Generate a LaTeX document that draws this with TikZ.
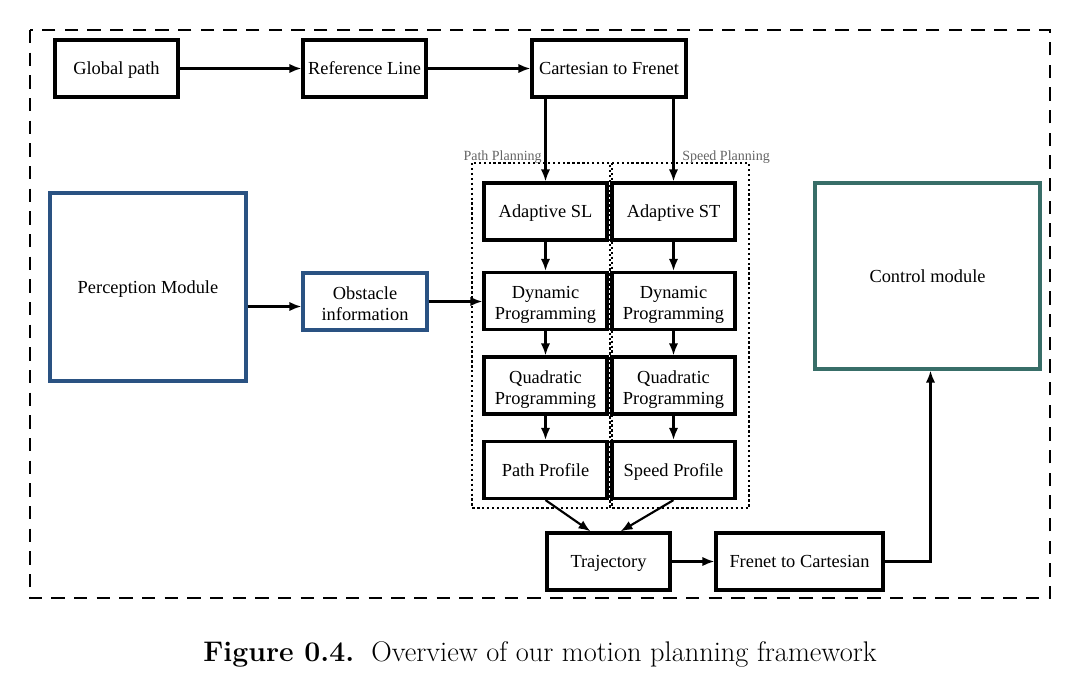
\documentclass[tikz,border=0pt]{standalone}
\usepackage{fontspec}
\newfontfamily\tnr{Liberation Serif}
\usetikzlibrary{arrows.meta,calc}
\definecolor{pblue}{RGB}{42,82,130}
\definecolor{cteal}{RGB}{56,110,104}
\definecolor{lblgray}{RGB}{100,100,100}
\tikzset{
  box/.style={draw, line width=2.4pt, font=\tnr\fontsize{13.8}{16}\selectfont, align=center, inner sep=0pt, minimum height=42.75pt, minimum width=92.25pt, text height=12.3pt, text depth=3pt},
  twoline/.style={text height=31pt, text depth=3pt},
  arr/.style={line width=1.6pt, -{Latex[length=9pt,width=7pt]}},
  grp/.style={draw, dotted, line width=1.7pt},
  grplbl/.style={font=\tnr\fontsize{10.5}{12}\selectfont, text=lblgray, inner sep=0pt}
}
\begin{document}
\begin{tikzpicture}[x=0.75pt,y=-0.75pt]
\useasboundingbox (0,0) rectangle (1077,692);
\draw[line width=1.8pt, dash pattern=on 10pt off 7pt] (30,30) rectangle (1050,598);

\node[box] (gp) at (116.5,68.5) {Global path};
\node[box] (rl) at (364.5,68.5) {Reference Line};
\node[box, minimum width=115.5pt] (cf) at (609,68.5) {Cartesian to Frenet};

\draw[grp] (472,163) rectangle (610,508);
\draw[grp] (612,163) rectangle (749,508);
\node[grplbl, anchor=base east] (pplbl) at (542,160) {Path Planning};
\node[grplbl, anchor=base west] (splbl) at (682,160) {Speed Planning};

\node[box] (sl) at (545.5,211.5) {Adaptive SL};
\node[box] (st) at (673.5,211.5) {Adaptive ST};
\node[box, twoline] (dp1) at (545.5,301) {Dynamic\\[-0.3pt]Programming};
\node[box, twoline] (dp2) at (673.5,301) {Dynamic\\[-0.3pt]Programming};
\node[box, twoline] (qp1) at (545.5,385.5) {Quadratic\\[-0.3pt]Programming};
\node[box, twoline] (qp2) at (673.5,385.5) {Quadratic\\[-0.3pt]Programming};
\node[box] (pp) at (545.5,470) {Path Profile};
\node[box] (sp) at (673.5,470) {Speed Profile};

\node[box, draw=pblue, minimum width=147pt, minimum height=141pt] (pm) at (148,287) {Perception Module};
\node[box, twoline, draw=pblue, minimum width=93pt] (ob) at (365,301.5) {Obstacle\\[-0.3pt]information};
\node[box, draw=cteal, minimum width=168.75pt, minimum height=139.5pt] (cm) at (927.5,276) {Control module};

\node[box] (tr) at (608.5,561.5) {Trajectory};
\node[box, minimum width=125.25pt] (fc) at (799.5,561.5) {Frenet to Cartesian};

\draw[arr] (gp) -- (rl);
\draw[arr] (rl) -- (cf);
\draw[arr] (cf.south -| sl.north) -- (sl.north);
\draw[arr] (cf.south -| st.north) -- (st.north);
\draw[arr] (sl) -- (dp1);
\draw[arr] (dp1) -- (qp1);
\draw[arr] (qp1) -- (pp);
\draw[arr] (st) -- (dp2);
\draw[arr] (dp2) -- (qp2);
\draw[arr] (qp2) -- (sp);
\draw[arr] ($(pm.east |- ob.west)+(0,5)$) -- ($(ob.west)+(0,5)$);
\draw[arr] (ob.east) -- (ob.east -| dp1.west);
\draw[arr] (pp.south) -- ($(tr.north)+(-18,0)$);
\draw[arr] (sp.south) -- ($(tr.north)+(12,0)$);
\draw[arr] (tr) -- (fc);
\draw[arr] (fc.east) -| ($(cm.south)+(3,0)$);

\node[font=\fontsize{21.3}{24}\selectfont, anchor=base] (cap) at (540,661) {\textbf{Figure 0.4.}\ \ Overview of our motion planning framework};
\end{tikzpicture}
\end{document}
